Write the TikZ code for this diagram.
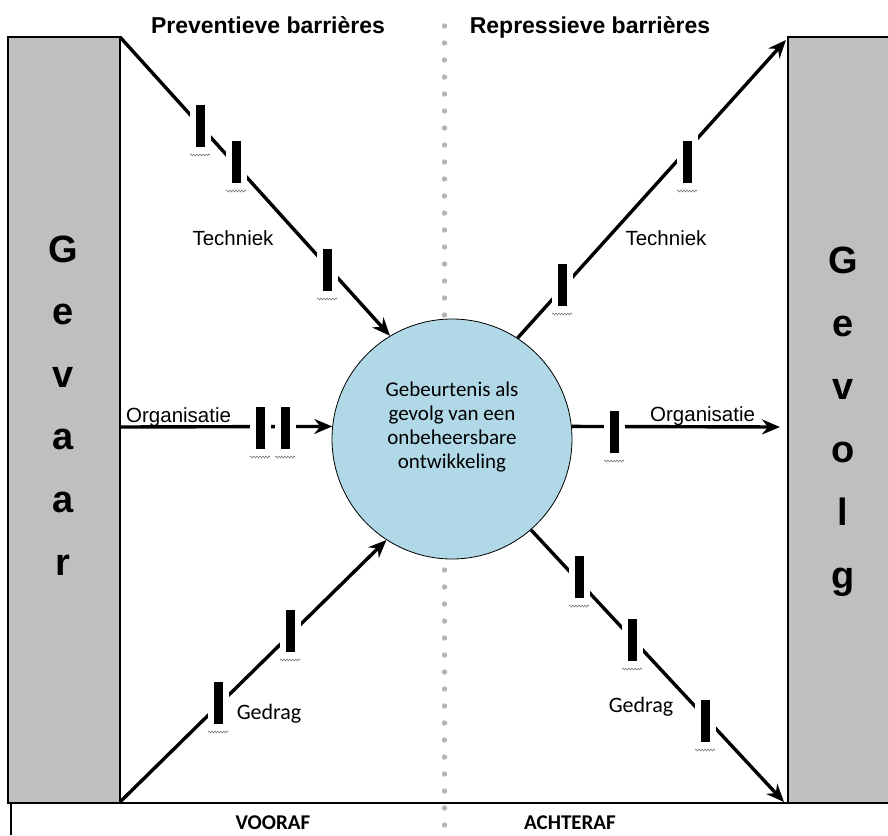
\documentclass[tikz,border=0pt]{standalone}
\usepackage{fontspec}
\setmainfont{Liberation Sans}
\newfontfamily\calfont{Carlito}
\usetikzlibrary{arrows.meta,decorations.pathmorphing}
\definecolor{boxgrey}{RGB}{191,191,191}
\definecolor{evblue}{RGB}{176,216,230}
\definecolor{dotgrey}{RGB}{180,180,180}
\definecolor{squig}{RGB}{120,120,120}
\tikzset{
  flow/.style={line width=3.4pt, -{Stealth[length=18pt,width=15pt,inset=6pt]}},
  barrier/.style={rectangle, fill=black, draw=white, line width=6pt,
    minimum width=15pt, minimum height=48pt, inner sep=0pt, outer sep=0pt},
  squiggle/.style={draw=squig, line width=0.6pt, decorate,
    decoration={snake, amplitude=0.9pt, segment length=3pt}},
  bigletter/.style={font=\bfseries\fontsize{38}{40}\selectfont, anchor=base, inner sep=0pt},
  title/.style={font=\bfseries\fontsize{23}{26}\selectfont, anchor=base, inner sep=0pt},
  armlabel/.style={font=\fontsize{20.5}{23}\selectfont, anchor=base, inner sep=0pt},
  callabel/.style={font=\calfont\fontsize{22}{24}\selectfont, anchor=base, inner sep=0pt},
  timelabel/.style={font=\calfont\bfseries\fontsize{21}{23}\selectfont, anchor=base, inner sep=0pt},
}
\begin{document}
\begin{tikzpicture}[x=1pt,y=-1pt]
\useasboundingbox[fill=white] (0,0) rectangle (888,835);
% dotted divider
\foreach \yy in {26,43,...,835} \fill[dotgrey] (444.5,\yy) circle (2.7pt);
% boxes
\fill[boxgrey] (8,37) rectangle (120,803);
\draw[line width=1.3pt] (8,37) rectangle (120,803);
\fill[boxgrey] (788,37) rectangle (888,803);
\draw[line width=1.3pt] (888,37) -- (788,37) -- (788,803);
% bottom strip
\draw[line width=1.8pt] (8,803) -- (888,803);
\draw[line width=1.2pt] (11,803) -- (11,835);
% letters
\foreach \ch [count=\i from 0] in {G,e,v,a,a,r}
  \node[bigletter] (gv\i) at (63,{262+62.6*\i}) {\ch};
\foreach \ch [count=\i from 0] in {G,e,v,o,l,g}
  \node[bigletter] (gl\i) at (843,{273+63*\i}) {\ch};
% event circle
\node[circle, draw=black, line width=0.8pt, fill=evblue, minimum size=240pt, inner sep=0pt] (ev) at (452,439) {};
\node[font=\calfont\fontsize{21}{23.7}\selectfont, align=center, inner sep=0pt] (evtext) at (452,427)
  {Gebeurtenis als\\gevolg van een\\onbeheersbare\\ontwikkeling};
% end points
\coordinate (gvTR) at (120,37);
\coordinate (gvBR) at (120,802);
\coordinate (orgL) at (120,427);
\coordinate (glTL) at (786,40);
\coordinate (orgR) at (780,427);
\coordinate (glBL) at (784,802);
% flows
\draw[flow] (gvTR) -- (ev.121);
\draw[flow] (orgL) -- (ev.174);
\draw[flow] (gvBR) -- (ev.237);
\draw[flow] (ev.57) -- (glTL);
\draw[flow] (ev.6) -- (orgR);
\draw[flow] (ev.311) -- (glBL);
% barriers
\node[barrier] (b1) at (200,126) {};
\node[barrier] (b2) at (236,162) {};
\node[barrier] (b3) at (327,270) {};
\node[barrier] (b4) at (260,428) {};
\node[barrier] (b5) at (285,428) {};
\node[barrier] (b6) at (218,703) {};
\node[barrier] (b7) at (290,631) {};
\node[barrier] (b8) at (562,285) {};
\node[barrier] (b9) at (687,162) {};
\node[barrier] (b10) at (614,432) {};
\node[barrier] (b11) at (579,577) {};
\node[barrier] (b12) at (632,640) {};
\node[barrier] (b13) at (705,721) {};
\foreach \b in {b1,b2,b3,b4,b5,b6,b7,b8,b9,b10,b11,b12,b13}
  \draw[squiggle] ([xshift=-10pt,yshift=-5pt]\b.south) -- ([xshift=10pt,yshift=-5pt]\b.south);
% titles
\node[title] (tprev) at (268,33) {Preventieve barrières};
\node[title] (trep) at (590,33) {Repressieve barrières};
% arm labels
\node[armlabel] (techL) at (233,245) {Techniek};
\node[armlabel] (techR) at (666,245) {Techniek};
\node[armlabel, anchor=base west] (orgLt) at (126,422) {Organisatie};
\node[armlabel, anchor=base west] (orgRt) at (650,421) {Organisatie};
\node[callabel] (gedL) at (269,719) {Gedrag};
\node[callabel] (gedR) at (641,712) {Gedrag};
% time labels
\node[timelabel] (voor) at (273,829) {VOORAF};
\node[timelabel] (acht) at (570,829) {ACHTERAF};
\end{tikzpicture}
\end{document}
